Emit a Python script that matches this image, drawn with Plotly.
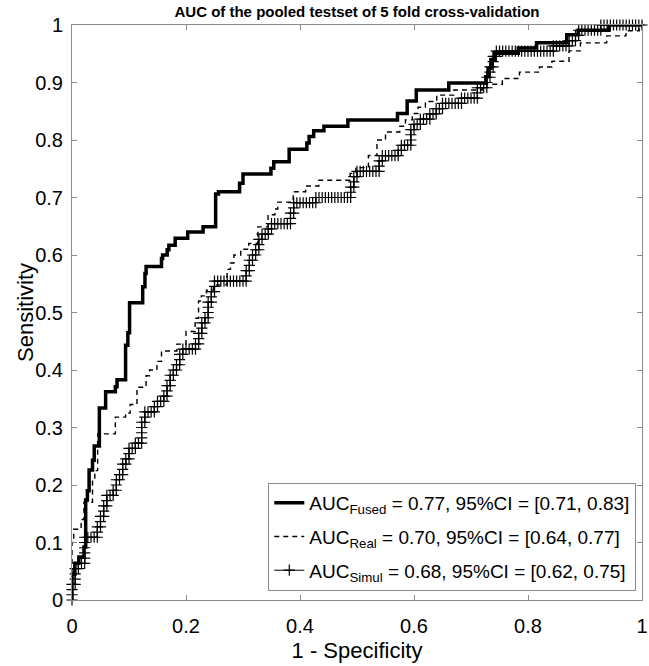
import numpy as np
import plotly.graph_objects as go

# ROC operating points (1 - specificity, sensitivity); each point closes a
# horizontal run, so the curve is drawn vertical-then-horizontal ("vh").
fused_fpr = [0, 0.005, 0.012, 0.021, 0.024, 0.027, 0.030, 0.036, 0.039, 0.048,
             0.059, 0.076, 0.079, 0.094, 0.098, 0.101, 0.124, 0.128, 0.130, 0.157,
             0.159, 0.167, 0.170, 0.181, 0.203, 0.230, 0.252, 0.257, 0.294, 0.300,
             0.349, 0.354, 0.381, 0.412, 0.416, 0.424, 0.442, 0.484, 0.571, 0.588,
             0.604, 0.661, 0.726, 0.730, 0.735, 0.741, 0.783, 0.815, 0.868, 0.888,
             0.942, 1.0]
fused_tpr = [0, 0.045, 0.064, 0.075, 0.092, 0.174, 0.190, 0.226, 0.243, 0.268,
             0.334, 0.362, 0.371, 0.383, 0.443, 0.465, 0.517, 0.545, 0.568, 0.580,
             0.594, 0.600, 0.609, 0.617, 0.629, 0.640, 0.649, 0.706, 0.710, 0.725,
             0.741, 0.751, 0.762, 0.784, 0.795, 0.806, 0.816, 0.824, 0.835, 0.846,
             0.868, 0.887, 0.899, 0.910, 0.925, 0.940, 0.951, 0.960, 0.969, 0.983,
             0.991, 1.0]

real_fpr = [0, 0.003, 0.016, 0.021, 0.036, 0.040, 0.045, 0.076, 0.094, 0.102,
            0.114, 0.130, 0.136, 0.149, 0.157, 0.184, 0.200, 0.216, 0.222, 0.227,
            0.236, 0.248, 0.272, 0.278, 0.284, 0.296, 0.310, 0.326, 0.344, 0.356,
            0.361, 0.388, 0.410, 0.433, 0.488, 0.498, 0.520, 0.535, 0.550, 0.575,
            0.585, 0.597, 0.607, 0.620, 0.640, 0.670, 0.720, 0.755, 0.785, 0.820,
            0.842, 0.872, 0.892, 0.938, 0.972, 0.995, 1.0]
real_tpr = [0, 0.100, 0.123, 0.140, 0.170, 0.210, 0.225, 0.289, 0.318, 0.325,
            0.340, 0.370, 0.390, 0.400, 0.415, 0.433, 0.445, 0.467, 0.490, 0.520,
            0.529, 0.539, 0.548, 0.575, 0.586, 0.600, 0.610, 0.620, 0.649, 0.670,
            0.680, 0.692, 0.710, 0.720, 0.730, 0.742, 0.752, 0.773, 0.800, 0.814,
            0.824, 0.835, 0.846, 0.857, 0.867, 0.878, 0.887, 0.897, 0.907, 0.918,
            0.927, 0.937, 0.955, 0.969, 0.981, 0.990, 1.0]

# Pooled test-set labels of the simulated-data model, ranked by descending
# score (1 = positive case, 0 = negative case).
simul_ranked_labels = (
    "1110111010011111 0000 110110110110 0101 101011010110 01001 1110110 "
    "0010100101 101101010 11010 00010 11011010 1110110110 000000000 11011010 "
    "1011010 01010 00000 110110 000000 1 00000000000 110110 10000000 1101 "
    "00000 101 000 111 010010 001001001 000000 1 00000 11 000 110110110 1 "
    "000000000000000000 1 0000 010010 1 0000000 1 0000000000000"
)

legend_names = [
    "AUC<sub>Fused</sub> = 0.77, 95%CI = [0.71, 0.83]",
    "AUC<sub>Real</sub> = 0.70, 95%CI = [0.64, 0.77]",
    "AUC<sub>Simul</sub> = 0.68, 95%CI = [0.62, 0.75]",
]

x_ticks = [0, 0.2, 0.4, 0.6, 0.8, 1]
y_ticks = [0, 0.1, 0.2, 0.3, 0.4, 0.5, 0.6, 0.7, 0.8, 0.9, 1]

# ROC of the simulated-data model from the ranked labels
labels = np.array([int(c) for c in simul_ranked_labels if c in "01"])
tp = np.concatenate([[0], np.cumsum(labels)])
fp = np.concatenate([[0], np.cumsum(1 - labels)])
simul_tpr = tp / tp[-1]
simul_fpr = fp / fp[-1]

AXIS_GRAY = "#8a8a8a"
FONT = "Liberation Sans, Arial, Helvetica, sans-serif"

fig = go.Figure()
fig.add_trace(go.Scatter(
    x=fused_fpr, y=fused_tpr, mode="lines", name=legend_names[0],
    legendgroup="fused",
    line=dict(color="black", width=3.5, shape="vh"),
))
fig.add_trace(go.Scatter(
    x=real_fpr, y=real_tpr, mode="lines", name=legend_names[1],
    legendgroup="real",
    line=dict(color="black", width=1.4, dash="5px,4px", shape="vh"),
))
fig.add_trace(go.Scatter(
    x=simul_fpr, y=simul_tpr, mode="lines+markers", name=legend_names[2],
    legendgroup="simul",
    line=dict(color="black", width=1),
    marker=dict(symbol="cross-thin", size=8, color="black",
                line=dict(color="black", width=1.2)),
    cliponaxis=False,
))

axis_common = dict(
    range=[0, 1], showgrid=False, zeroline=False,
    showline=True, linecolor=AXIS_GRAY, linewidth=1, mirror="allticks",
    ticks="inside", ticklen=5, tickwidth=1, tickcolor=AXIS_GRAY,
    tickfont=dict(size=20, color="black", family=FONT),
    ticklabeloverflow="allow",
)

fig.update_layout(
    width=649, height=666,
    margin=dict(l=72, r=1, t=25, b=66),
    paper_bgcolor="white", plot_bgcolor="white",
    font=dict(family=FONT, color="black"),
    title=dict(
        text="<b>AUC of the pooled testset of 5 fold cross-validation</b>",
        font=dict(size=15, family=FONT, color="black"),
        x=0.5, xref="paper", xanchor="center",
        y=1 - 12 / 666, yref="container", yanchor="middle",
    ),
    xaxis=dict(
        **axis_common, tickvals=x_ticks, ticktext=[f"{v:g}" for v in x_ticks],
        ticklabelstandoff=8,
        title=dict(text="1 - Specificity", font=dict(size=22, family=FONT), standoff=6),
    ),
    yaxis=dict(
        **axis_common, tickvals=y_ticks, ticktext=[f"{v:g}" for v in y_ticks],
        ticklabelstandoff=4,
    ),
    legend=dict(
        x=0.99, xanchor="right", y=0.0157, yanchor="bottom",
        bgcolor="white", bordercolor=AXIS_GRAY, borderwidth=1,
        font=dict(size=19, family=FONT, color="black"),
        itemwidth=30, traceorder="grouped", tracegroupgap=6,
    ),
    showlegend=True,
)

# y-axis title, just left of the tick-label column
fig.add_annotation(
    text="Sensitivity", textangle=-90, showarrow=False,
    xref="paper", yref="paper", x=-47 / 576, y=0.5,
    xanchor="center", yanchor="middle",
    font=dict(size=22, family=FONT, color="black"),
)

fig.write_html("out.html")
